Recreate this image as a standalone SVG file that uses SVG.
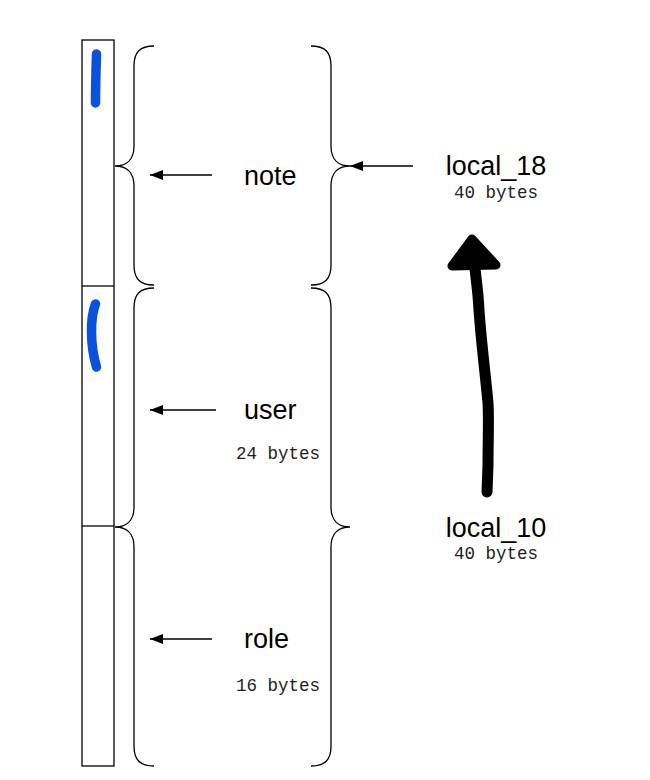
<svg xmlns="http://www.w3.org/2000/svg" width="650" height="780" viewBox="0 0 650 780">
<defs>
<style>
.ln{fill:none;stroke:#000;stroke-width:1.3}
.lbl{font-family:"Liberation Sans",Arial,sans-serif;font-size:27px;fill:#000}
.sz{font-family:"Liberation Mono","Courier New",monospace;font-size:17.5px;fill:#222}
.blue{fill:none;stroke:#0a52dd;stroke-width:9.5;stroke-linecap:round}
</style>
<marker id="ah" markerWidth="14" markerHeight="10" refX="13" refY="5" orient="auto" markerUnits="userSpaceOnUse">
<path d="M0,0 L13,5 L0,10 Z" fill="#000"/>
</marker>
</defs>
<rect width="650" height="780" fill="#fff"/>
<g id="memory">
<rect class="ln" x="82" y="40" width="32" height="726"/>
<line class="ln" x1="82" y1="286" x2="114" y2="286"/>
<line class="ln" x1="82" y1="526" x2="114" y2="526"/>
<path class="blue" d="M96.5,54 C96,70 95.5,88 95.5,103"/>
<path class="blue" d="M95.5,304 C90,318 90,345 96.5,367"/>
</g>
<g id="braces">
<path class="ln" d="M154,46 C140,46 134,52 134,66 L134,146 C134,160 126,166 115,166 C126,166 134,172 134,186 L134,265 C134,279 140,285 154,285"/>
<path class="ln" d="M154,288 C140,288 134,294 134,308 L134,507 C134,521 126,527 115,527 C126,527 134,533 134,547 L134,746 C134,760 140,766 154,766"/>
<path class="ln" d="M311,46 C325,46 331,52 331,66 L331,146 C331,160 339,166 350,166 C339,166 331,172 331,186 L331,265 C331,279 325,285 311,285"/>
<path class="ln" d="M311,288 C325,288 331,294 331,308 L331,507 C331,521 339,527 350,527 C339,527 331,533 331,547 L331,746 C331,760 325,766 311,766"/>
</g>
<g id="note"><text class="lbl" x="244" y="185">note</text></g>
<g id="user"><text class="lbl" x="244" y="419">user</text><text class="sz" x="236" y="459">24 bytes</text></g>
<g id="role"><text class="lbl" x="244" y="648">role</text><text class="sz" x="236" y="691">16 bytes</text></g>
<g id="local_18"><text class="lbl" x="496" y="175" text-anchor="middle">local_18</text><text class="sz" x="496" y="198" text-anchor="middle">40 bytes</text></g>
<g id="local_10"><text class="lbl" x="496" y="537" text-anchor="middle">local_10</text><text class="sz" x="496" y="559" text-anchor="middle">40 bytes</text></g>
<g id="connectors">
<line class="ln" x1="212" y1="175" x2="150" y2="175" marker-end="url(#ah)"/>
<line class="ln" x1="216" y1="410" x2="150" y2="410" marker-end="url(#ah)"/>
<line class="ln" x1="212" y1="639" x2="150" y2="639" marker-end="url(#ah)"/>
<line class="ln" x1="413" y1="166" x2="350" y2="166" marker-end="url(#ah)"/>
<path d="M487,492 L488,465 C488,440 489,420 488,403 C486,380 481,340 479,310 C478,290 476,280 475,268" fill="none" stroke="#000" stroke-width="11" stroke-linecap="round" stroke-linejoin="round"/>
<path d="M472,239 L452,266 L496,265 Z" fill="#000" stroke="#000" stroke-width="9" stroke-linejoin="round"/>
</g>
</svg>
